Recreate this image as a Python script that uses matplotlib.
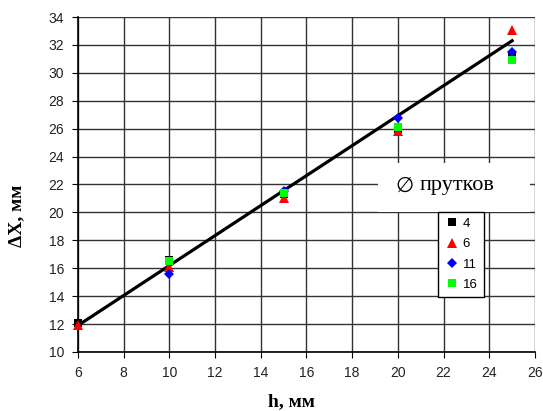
import numpy as np
import matplotlib
matplotlib.use("Agg")
import matplotlib.pyplot as plt
from matplotlib.patches import Rectangle

# h, mm
h = [6, 10, 15, 20, 25]

# delta X, mm for each rod diameter (no visible point at h=6 for 11 and 16)
dx_4 = [12.05, 16.6, 21.3, 26.0, 31.2]
dx_6 = [11.9, 16.1, 21.0, 25.8, 33.1]
dx_11 = [np.nan, 15.6, 21.5, 26.8, 31.5]
dx_16 = [np.nan, 16.5, 21.4, 26.1, 30.9]

# trend line ends
trend_x = [6, 25]
trend_y = [11.9, 32.3]

series = [
    ("4", dx_4, "s", "black", 6),
    ("6", dx_6, "^", "red", 7),
    ("11", dx_11, "D", "blue", 5.5),
    ("16", dx_16, "s", "#00ff00", 6),
]

fig = plt.figure(figsize=(5.43, 4.11), dpi=100)
ax = fig.add_axes([0.1436, 0.1436, 0.8416, 0.815])

ax.plot(trend_x, trend_y, color="black", lw=2.3, zorder=2, clip_on=False)

handles = []
for name, vals, m, c, s in series:
    hnd = ax.plot(h, vals, linestyle="none", marker=m, color=c, ms=s,
                  markeredgewidth=0, label=name, zorder=3, clip_on=False)[0]
    handles.append(hnd)

ax.set_xlim(6, 26)
ax.set_ylim(10, 34)
ax.set_xticks(np.arange(6, 27, 2))
ax.set_yticks(np.arange(10, 35, 2))
ax.grid(True, color="#333333", lw=1)
ax.set_axisbelow(True)
for sp in ["top", "right"]:
    ax.spines[sp].set_visible(False)
ax.spines["left"].set_linewidth(1.2)
ax.spines["bottom"].set_linewidth(1.2)
ax.tick_params(labelsize=10, length=4, pad=6, colors="black", labelcolor="#222222")
for lbl in ax.get_xticklabels() + ax.get_yticklabels():
    lbl.set_family("Liberation Sans")

ax.set_xlabel("h, мм", family="Liberation Serif", fontweight="bold", fontsize=14)
ax.set_ylabel("ΔX, мм", family="Liberation Serif", fontweight="bold", fontsize=14)
ax.xaxis.set_label_coords(0.468, -0.15)
ax.yaxis.set_label_coords(-0.133, 0.406)
ax.xaxis.label.set_va("center")
ax.yaxis.label.set_va("center")

# white panel behind the legend title
fig.patches.append(Rectangle((378 / 543, 1 - 212 / 411), 152 / 543, 49 / 411,
                             transform=fig.transFigure, facecolor="white",
                             edgecolor="none", zorder=4))
fig.text(0.745, 0.549, "∅", family="DejaVu Sans", fontsize=15,
         ha="center", va="center", zorder=5)
fig.text(0.842, 0.549, "прутков", family="Liberation Serif", fontsize=16,
         ha="center", va="center", zorder=5)

leg = fig.legend(handles=handles, loc="upper left", bbox_to_anchor=(0.806, 0.485),
                 frameon=True, fancybox=False, edgecolor="black", framealpha=1,
                 fontsize=9.5, handlelength=1.2, handletextpad=0.25,
                 borderpad=0.45, labelspacing=0.62, borderaxespad=0)
leg.get_frame().set_linewidth(1)
leg.set_zorder(6)
for t in leg.get_texts():
    t.set_family("Liberation Sans")

fig.savefig("out.png", dpi=100)
